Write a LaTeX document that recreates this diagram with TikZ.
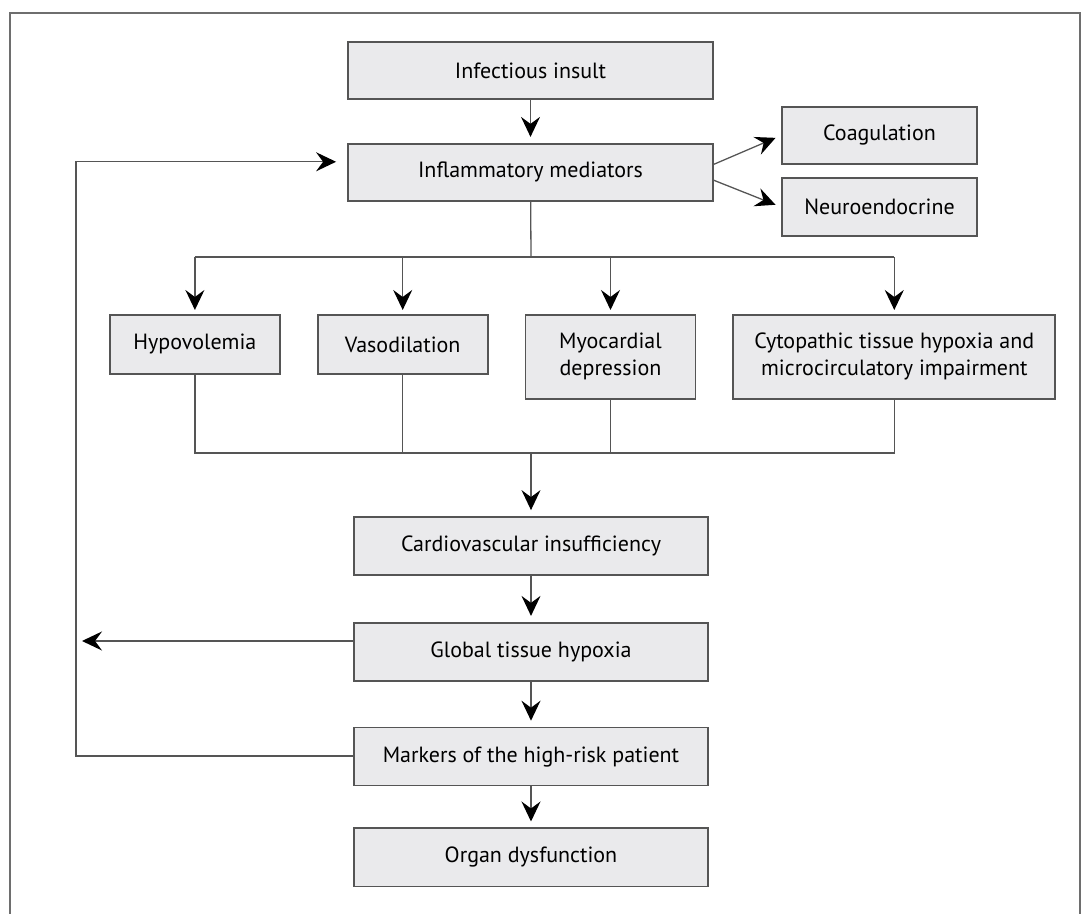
\documentclass[tikz,border=0pt]{standalone}
\usepackage{fontspec}
\setmainfont{PT Sans}
\usetikzlibrary{positioning, arrows.meta, calc}
\definecolor{boxfill}{HTML}{EAEAEC}
\definecolor{boxline}{HTML}{555555}
\tikzset{
    stage/.style={draw=boxline, fill=boxfill, line width=0.9pt, minimum width=177pt, minimum height=29pt, inner sep=2pt, align=center, font=\fontsize{11}{13.5}\selectfont},
    topstage/.style={stage, minimum width=182.5pt, minimum height=28.5pt},
    side/.style={stage, minimum width=97.5pt, minimum height=28.5pt},
    cause/.style={stage, minimum width=85pt, minimum height=29.5pt, anchor=north west},
    causetall/.style={cause, minimum height=42pt},
    link/.style={draw=boxline, line width=0.65pt},
    arr/.style={link, -{Stealth[length=10pt, width=9.5pt, inset=3.5pt, color=black]}, shorten >=3pt},
    frame/.style={draw=boxline!85, line width=1pt} }

\begin{document}
\begin{tikzpicture}[x=0.5pt, y=-0.5pt, node distance=18pt]
    \useasboundingbox (0,0) rectangle (1083,914);
    \draw[frame] (10,914) -- (10,13) -- (1080,13) -- (1080,914);

    \node[topstage] (infect) at (530.5,70.5) {Infectious insult};
    \node[topstage, below=21.5pt of infect] (inflam) {Inflammatory mediators};
    \node[side] (coag) at (879.5,135.5) {Coagulation};
    \node[side, minimum height=29pt] (neuro) at (879.5,207) {Neuroendocrine};
    \node[cause] (hypo) at (109,314) {Hypovolemia};
    \node[cause, right=of hypo.north east, anchor=north west] (vaso) {Vasodilation};
    \node[causetall, right=of vaso.north east, anchor=north west] (myo) {Myocardial\\depression};
    \node[causetall, minimum width=161pt, right=of myo.north east, anchor=north west] (cyto) {Cytopathic tissue hypoxia and\\microcirculatory impairment};
    \node[stage] (cardio) at (531,546) {Cardiovascular insufficiency};
    \node[stage, below=23pt of cardio] (glob) {Global tissue hypoxia};
    \node[stage, below=22.5pt of glob] (mark) {Markers of the high-risk patient};
    \node[stage, below=20.5pt of mark] (organ) {Organ dysfunction};
    \coordinate (split) at (531,257);
    \coordinate (merge) at (531,453);
    \coordinate (fbmid) at (76,641);
    \coordinate (fbbot) at (76,756);
    % ----
    \draw[arr] (infect) -- (inflam);
    \draw[arr] ([yshift=4pt]inflam.east) -- (coag.west);
    \draw[arr] ([yshift=-4pt]inflam.east) -- (neuro.west);

    \draw[link] (inflam) -- (split);
    \draw[link] (hypo |- split) -- (cyto |- split);
    \foreach \n in {hypo, vaso, myo, cyto}
        \draw[arr, shorten >=2pt] (\n |- split) -- (\n);

    \draw[link] (hypo.south) -- (hypo.south |- merge) -- (cyto.south |- merge) -- (cyto.south);
    \draw[link] (vaso) -- (vaso |- merge);
    \draw[link] (myo) -- (myo |- merge);
    \draw[arr] (merge) -- (cardio);

    \draw[arr] (cardio) -- (glob);
    \draw[arr] (glob) -- (mark);
    \draw[arr] (mark) -- (organ);

    \draw[arr] (glob.west |- fbmid) -- (fbmid);
    \draw[arr, shorten >=5.5pt] (mark.west |- fbbot) -- (fbbot) |- ([yshift=5.25pt]inflam.west);
\end{tikzpicture}
\end{document}
